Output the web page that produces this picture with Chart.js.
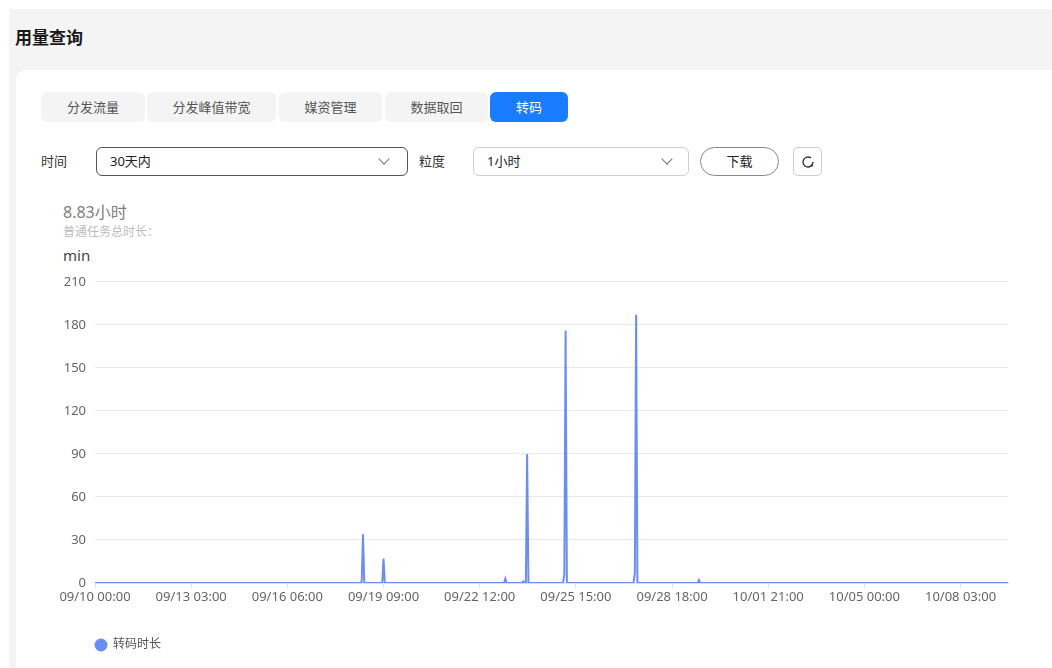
<!DOCTYPE html>
<html lang="zh-CN">
<head>
<meta charset="utf-8">
<title>用量查询</title>
<script src="https://cdn.jsdelivr.net/npm/chart.js@4.4.1/dist/chart.umd.min.js"></script>
<style>
  html, body { margin: 0; padding: 0; background: #fff; }
  body { width: 1052px; height: 668px; position: relative; overflow: hidden;
         font-family: "Noto Sans", "Noto Sans CJK SC", sans-serif; color: #333; }
  .frame { position: absolute; left: 9px; top: 9px; right: 0; bottom: 0; background: #f4f4f4; }
  .title { position: absolute; left: 15px; top: 24px; font-size: 17px; font-weight: bold; color: #191919; }
  .card { position: absolute; left: 16px; top: 70px; right: 0; bottom: 0; background: #fff; border-top-left-radius: 10px; }
  .tab { position: absolute; top: 92px; height: 30px; line-height: 30px; text-align: center;
         font-size: 13px; color: #555; background: #f4f4f4; border-radius: 6px; }
  .tab.on { background: #1a7cff; color: #fff; }
  .lbl { position: absolute; top: 151px; font-size: 13px; color: #333; }
  .sel { position: absolute; top: 147px; height: 29px; box-sizing: border-box; border-radius: 6px;
         border: 1px solid #d0d0d0; font-size: 13px; color: #222; }
  .sel span { position: absolute; left: 13px; top: 3px; }
  .sel i { position: absolute; top: 7px; width: 7px; height: 7px; border-right: 1.3px solid #777;
           border-bottom: 1.3px solid #777; transform: rotate(45deg); }
  .btn { position: absolute; top: 147px; height: 29px; box-sizing: border-box; border: 1px solid #888;
         font-size: 13px; color: #222; text-align: center; line-height: 27px; }
  .stat { position: absolute; left: 63px; }
  #wrap { position: absolute; left: 30px; top: 265px; width: 1000px; height: 396px; }
</style>
</head>
<body>
<div class="frame"></div>
<div class="title">用量查询</div>
<div class="card"></div>

<div class="tab" style="left:41px;width:104px">分发流量</div>
<div class="tab" style="left:147px;width:129px">分发峰值带宽</div>
<div class="tab" style="left:279px;width:103px">媒资管理</div>
<div class="tab" style="left:385px;width:103px">数据取回</div>
<div class="tab on" style="left:490px;width:78px">转码</div>

<div class="lbl" style="left:41px">时间</div>
<div class="sel" style="left:96px;width:312px;border-color:#555"><span>30天内</span><i style="left:283px"></i></div>
<div class="lbl" style="left:419px">粒度</div>
<div class="sel" style="left:473px;width:216px"><span>1小时</span><i style="left:189px"></i></div>
<div class="btn" style="left:700px;width:79px;border-radius:15px">下载</div>
<div class="btn" style="left:793px;width:29px;border-radius:5px;border-color:#ccc">
  <svg width="16" height="16" viewBox="0 0 16 16" style="margin-top:6px">
    <path d="M13 8a5 5 0 1 1-2-4" fill="none" stroke="#333" stroke-width="1.4"/>
    <path d="M12.6 9.6l0.6 3 -3-0.6z" fill="#333"/>
  </svg>
</div>

<div class="stat" style="top:199px;font-size:16px;color:#808080">8.83小时</div>
<div class="stat" style="top:222px;font-size:12px;color:#bdbdbd">普通任务总时长：</div>
<div class="stat" style="top:245px;font-size:15px;color:#444">min</div>

<div id="wrap"><canvas id="chartTranscode"></canvas></div>

<script>
  // hourly range shown in the chart
  const startDay = [9, 10];        // 09/10 00:00
  const hourCount = 713;           // up to 10/09 16:00
  const labelEvery = 75;           // one x label every 75 hours

  // hours with transcoding time (min), everything else is 0
  const busyHours = ["09/18 16:00", "09/18 17:00", "09/19 09:00", "09/23 08:00", "09/23 22:00",
                     "09/24 01:00", "09/25 06:00", "09/25 07:00", "09/27 13:00", "09/27 14:00", "09/29 15:00"];
  const busyMinutes = [1, 34, 17, 3, 1, 90, 6, 176, 7, 187, 2];

  const yTicks = [0, 30, 60, 90, 120, 150, 180, 210];
  const seriesName = "转码时长";
  const lineColor = "#6a8ef2";

  function pad(n) { return String(n).padStart(2, "0"); }

  // category labels, one per hour
  const hours = [];
  const t0 = Date.UTC(2023, startDay[0] - 1, startDay[1]);
  for (let i = 0; i < hourCount; i++) {
    const d = new Date(t0 + i * 3600000);
    hours.push(`${pad(d.getUTCMonth() + 1)}/${pad(d.getUTCDate())} ${pad(d.getUTCHours())}:00`);
  }
  const minutes = hours.map(h => {
    const k = busyHours.indexOf(h);
    return k >= 0 ? busyMinutes[k] : 0;
  });

  // keep the legend under the plot instead of at the canvas edge
  const legendShift = {
    id: "legendShift",
    afterLayout(chart) {
      if (chart.legend) chart.legend.left = chart.chartArea.left - 10;
    }
  };

  Chart.defaults.font.family = '"Noto Sans", "Noto Sans CJK SC", sans-serif';
  Chart.defaults.font.size = 13;
  Chart.defaults.color = "#666";

  new Chart(document.getElementById("chartTranscode"), {
    type: "line",
    data: {
      labels: hours,
      datasets: [{
        label: seriesName,
        data: minutes,
        borderColor: lineColor,
        backgroundColor: lineColor,
        borderWidth: 2,
        pointRadius: 0,
        tension: 0,
      }],
    },
    options: {
      responsive: true,
      maintainAspectRatio: false,
      animation: false,
      layout: { padding: { top: 6, right: 22, left: 0, bottom: 0 } },
      plugins: {
        legend: {
          position: "bottom",
          align: "start",
          labels: {
            usePointStyle: true, pointStyle: "circle", boxWidth: 12, boxHeight: 7.8,
            color: "#555", font: { size: 12 },
          },
        },
        tooltip: { enabled: false },
      },
      scales: {
        x: {
          afterFit(scale) { scale.height = 46; },
          grid: {
            drawOnChartArea: false,
            tickLength: 5,
            color: ctx => (ctx.index % labelEvery === 0 ? "#e0e0e0" : "rgba(0,0,0,0)"),
          },
          border: { color: "#e0e0e0" },
          ticks: {
            autoSkip: false,
            maxRotation: 0,
            padding: 1,
            color: "#666",
            callback: (v, i) => (i % labelEvery === 0 ? hours[i] : ""),
          },
        },
        y: {
          min: yTicks[0],
          max: yTicks[yTicks.length - 1],
          afterFit(scale) { scale.width = 65; },
          afterBuildTicks(scale) { scale.ticks = yTicks.map(v => ({ value: v })); },
          grid: { color: "#e9e9e9", drawTicks: false },
          border: { display: false },
          ticks: { padding: 9, color: "#666" },
        },
      },
    },
    plugins: [legendShift],
  });
</script>
</body>
</html>
